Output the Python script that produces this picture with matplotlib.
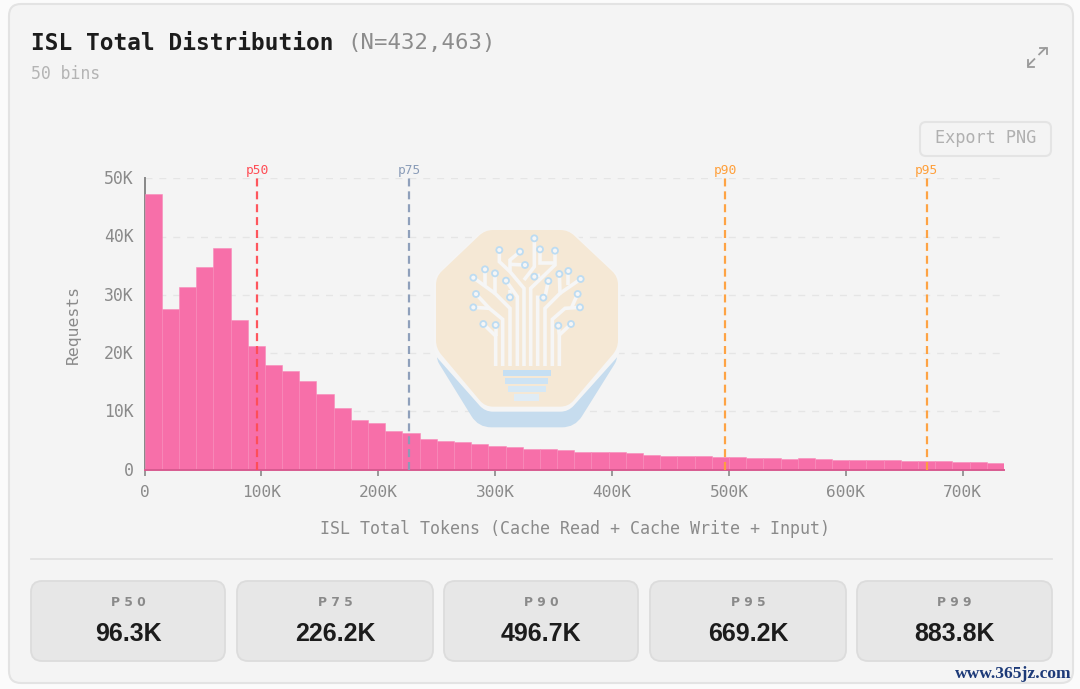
import numpy as np
import matplotlib
matplotlib.use("Agg")
import matplotlib.pyplot as plt
from matplotlib.patches import FancyBboxPatch, PathPatch, Rectangle, Circle
from matplotlib.path import Path
from matplotlib.ticker import FuncFormatter
from matplotlib.transforms import ScaledTranslation

# ---- data ----
bin_counts = [47300, 27600, 31300, 34800, 38000, 25600, 21200, 17900, 16900, 15300,
              12900, 10500, 8600, 8000, 6700, 6300, 5300, 4900, 4700, 4400,
              4100, 3850, 3600, 3550, 3300, 3000, 3000, 3000, 2800, 2450,
              2400, 2400, 2400, 2100, 2200, 2050, 2050, 1900, 1950, 1900,
              1700, 1700, 1650, 1600, 1500, 1550, 1450, 1300, 1250, 1150]
x_max = 735400
y_max = 50000
pct_names = ["p50", "p75", "p90", "p95"]
pct_values = [96300, 226200, 496700, 669200]
pct_colors = ["#ff4d55", "#8a9cb8", "#ff9f3a", "#ff9f3a"]
stat_names = ["P50", "P75", "P90", "P95", "P99"]
stat_labels = ["96.3K", "226.2K", "496.7K", "669.2K", "883.8K"]
x_ticks = [0, 100000, 200000, 300000, 400000, 500000, 600000, 700000]
y_ticks = [0, 10000, 20000, 30000, 40000, 50000]

MONO = "DejaVu Sans Mono"
W, H = 1080, 689
fig = plt.figure(figsize=(W / 100, H / 100), dpi=100, facecolor="#fbfbfb")

# ---- page furniture in pixel coordinates ----
bg = fig.add_axes([0, 0, 1, 1], zorder=0)
bg.set_xlim(0, W)
bg.set_ylim(H, 0)
bg.axis("off")

bg.add_patch(FancyBboxPatch((9, 4), 1064, 679, boxstyle="round,pad=0,rounding_size=12",
                            fc="#f4f4f4", ec="#e3e3e3", lw=1.5))
bg.text(31, 43.5, "ISL Total Distribution", family=MONO, weight="bold", fontsize=16.35,
        color="#1c1c1c", va="center", ha="left")
bg.text(347, 43.5, "(N=432,463)", family=MONO, fontsize=16.1, color="#8c8c8c", va="center", ha="left")
bg.text(31, 74, "50 bins", family=MONO, fontsize=11.9, color="#b4b4b4", va="center", ha="left")

# expand icon
icon_color = "#9a9a9a"
bg.plot([1027.5, 1035], [66, 58.5], color=icon_color, lw=1.3, solid_capstyle="butt")
bg.plot([1027.5, 1027.5, 1034], [60, 66.5, 66.5], color=icon_color, lw=1.3, solid_joinstyle="miter")
bg.plot([1038.5, 1046], [55, 47.5], color=icon_color, lw=1.3, solid_capstyle="butt")
bg.plot([1040, 1046.5, 1046.5], [47.5, 47.5, 54], color=icon_color, lw=1.3, solid_joinstyle="miter")

# export button
bg.add_patch(FancyBboxPatch((920, 122), 131, 34, boxstyle="round,pad=0,rounding_size=6",
                            fc="#f4f4f4", ec="#e4e4e4", lw=1.5))
bg.text(986, 138, "Export PNG", family=MONO, fontsize=12.2, color="#b0b0b0", va="center", ha="center")

# divider
bg.plot([31, 1052], [559, 559], color="#e2e2e2", lw=1.3)

# stat boxes
box_left = [31, 237, 444, 650, 857]
box_right = [225, 433, 638, 846, 1052]
for l, r, n, v in zip(box_left, box_right, stat_names, stat_labels):
    bg.add_patch(FancyBboxPatch((l, 581), r - l, 80, boxstyle="round,pad=0,rounding_size=11",
                                fc="#e7e7e7", ec="#dcdcdc", lw=1.3))
    c = (l + r) / 2
    bg.text(c, 602, " ".join(n), family="DejaVu Sans", weight="bold", fontsize=8.8, color="#8a8a8a",
            va="center", ha="center")
    bg.text(c, 634, v, family="Liberation Sans", weight="bold", fontsize=18, color="#1c1c1c",
            va="center", ha="center")

# ---- histogram ----
ax = fig.add_axes([144.6 / W, 1 - 469.7 / H, (1004 - 144.6) / W, (469.7 - 178.2) / H], zorder=2)
ax.patch.set_alpha(0)
edges = np.linspace(0, x_max, len(bin_counts) + 1)
ax.set_axisbelow(True)
ax.yaxis.grid(True, color="#e5e5e5", lw=1.0, dashes=(5, 5))
ax.bar(edges[:-1], bin_counts, width=np.diff(edges), align="edge", color="#f76fa9",
       edgecolor="#f88bba", linewidth=0.4, zorder=3)
ax.set_xlim(0, x_max)
ax.set_ylim(0, y_max)
for s in ["top", "right"]:
    ax.spines[s].set_visible(False)
for s in ["left", "bottom"]:
    ax.spines[s].set_color("#888888")
    ax.spines[s].set_linewidth(1.4)
ax.spines["bottom"].set_zorder(4)
ax.spines["bottom"].set_color("#d85a90")
ax.set_xticks(x_ticks)
ax.set_yticks(y_ticks)
fmt = FuncFormatter(lambda v, _: "0" if v == 0 else f"{int(v / 1000)}K")
ax.xaxis.set_major_formatter(fmt)
ax.yaxis.set_major_formatter(fmt)
ax.tick_params(axis="x", length=4.5, width=1.2, color="#888888", labelcolor="#8a8a8a", labelsize=11.6, pad=6.2)
ax.tick_params(axis="y", length=0, labelcolor="#8a8a8a", labelsize=11.9, pad=8)
up = ScaledTranslation(0, 0.8 / 72, fig.dpi_scale_trans)
for lab in ax.get_xticklabels() + ax.get_yticklabels():
    lab.set_family(MONO)
for lab in ax.get_yticklabels():
    lab.set_transform(lab.get_transform() + up)
ax.set_xlabel("ISL Total Tokens (Cache Read + Cache Write + Input)", family=MONO, fontsize=12, color="#8a8a8a")
ax.xaxis.set_label_coords((575 - 144.6) / (1004 - 144.6), -(529 - 469.7) / 291.5, ax.transAxes)
ax.xaxis.label.set_va("center")
ax.set_ylabel("Requests", family=MONO, fontsize=11.8, color="#8a8a8a")
ax.yaxis.set_label_coords((73 - 144.6) / (1004 - 144.6), (469.7 - 325) / 291.5, ax.transAxes)
ax.yaxis.label.set_va("center")

for name, val, col in zip(pct_names, pct_values, pct_colors):
    ax.axvline(val, color=col, lw=1.6, dashes=(3.6, 2.2), zorder=5, alpha=0.95)
    ax.annotate(name, xy=(val, 1), xycoords=("data", "axes fraction"), xytext=(0, 5.2),
                textcoords="offset points", ha="center", va="center", family=MONO,
                fontsize=9.3, color=col, annotation_clip=False)

# ---- watermark logo, drawn above the grid ----
logo = fig.add_axes([0, 0, 1, 1], zorder=3)
logo.set_xlim(0, W)
logo.set_ylim(H, 0)
logo.axis("off")
logo.patch.set_alpha(0)


def z(p):
    return (400 + p[0] / 3, 210 + p[1] / 3)


def rounded(points, cap=8.0, r=0.28):
    pts = [np.array(z(p)) for p in points]
    verts, codes = [], []
    n = len(pts)
    for i, p in enumerate(pts):
        a, b = pts[i - 1], pts[(i + 1) % n]
        da, db = a - p, b - p
        rad = min(cap, np.linalg.norm(da) * r, np.linalg.norm(db) * r)
        s = p + da / np.linalg.norm(da) * rad
        e = p + db / np.linalg.norm(db) * rad
        verts += [s, p, e]
        codes += [Path.LINETO if i else Path.MOVETO, Path.CURVE3, Path.CURVE3]
    verts.append(verts[0])
    codes.append(Path.CLOSEPOLY)
    return Path(verts, codes)


octagon = [(255, 60), (505, 60), (654, 200), (654, 415), (505, 590), (255, 590), (108, 415), (108, 200)]
blue_part = [(98, 430), (235, 652), (525, 652), (664, 430)]
halo = [(x, y + 15) if y > 300 else (x, y) for x, y in octagon]
halo = [(x - 8 if x < 300 else x + 8, y) if y < 500 else (x, y) for x, y in halo]
logo.add_patch(PathPatch(rounded(blue_part, cap=13), fc="#c6dcee", ec="none"))
logo.add_patch(PathPatch(rounded(halo), fc="#f5f5f5", ec="none"))
logo.add_patch(PathPatch(rounded(octagon), fc="#f6e8d4", ec="none", alpha=0.97))

branches = [
    [(287, 468), (287, 378), (250, 342)], [(287, 378), (287, 345)],
    [(308, 468), (308, 328), (268, 295), (220, 292)], [(268, 295), (228, 252)],
    [(330, 468), (330, 295), (285, 250), (285, 190)], [(285, 250), (220, 203)], [(255, 225), (255, 178)],
    [(352, 468), (352, 260), (318, 212)], [(330, 262), (330, 240)],
    [(372, 468), (372, 235), (330, 185), (298, 155), (298, 120)],
    [(330, 185), (330, 150), (360, 125)], [(330, 163), (375, 165)],
    [(392, 468), (392, 235), (465, 165), (465, 122)], [(420, 195), (403, 200)],
    [(413, 468), (413, 262), (430, 263)], [(372, 210), (403, 170), (403, 85)],
    [(420, 118), (420, 160), (465, 160)],
    [(435, 468), (435, 295), (480, 250), (478, 192)], [(480, 250), (542, 207)], [(505, 225), (505, 183)],
    [(435, 260), (445, 213)],
    [(457, 468), (457, 328), (495, 295), (540, 292)], [(515, 292), (533, 252)],
    [(478, 468), (478, 375), (475, 347)], [(478, 375), (513, 342)],
]
for line in branches:
    xs, ys = zip(*[z(p) for p in line])
    logo.plot(xs, ys, color="#f6f6f6", lw=2.6, solid_joinstyle="miter", solid_capstyle="butt", zorder=3)
nodes = [(250, 342), (287, 345), (220, 292), (228, 252), (220, 203), (255, 178), (285, 190),
         (318, 212), (330, 262), (298, 120), (360, 125), (375, 165), (403, 85), (420, 118),
         (465, 122), (403, 200), (430, 263), (445, 213), (478, 192), (505, 183), (542, 207),
         (533, 252), (540, 292), (475, 347), (513, 342)]
for p in nodes:
    logo.add_patch(Circle(z(p), 3.0, fc="#f6f6f6", ec="#bddcf2", lw=1.3, zorder=4))
base = [((308, 480), (453, 498), "#c5dff3"), ((316, 504), (445, 522), "#cde3f4"),
        ((323, 529), (437, 547), "#d6e8f5"), ((342, 553), (418, 572), "#e0ecf5")]
for a, b, c in base:
    (x0, y0), (x1, y1) = z(a), z(b)
    logo.add_patch(Rectangle((x0, y0), x1 - x0, y1 - y0, fc=c, ec="none", zorder=3))

# site watermark
logo.text(1072, 674.5, "www.365jz.com", family="Liberation Serif", weight="bold", fontsize=12.6,
          color="#1d3a78", ha="right", va="center")

fig.savefig("out.png", dpi=100, facecolor=fig.get_facecolor())
